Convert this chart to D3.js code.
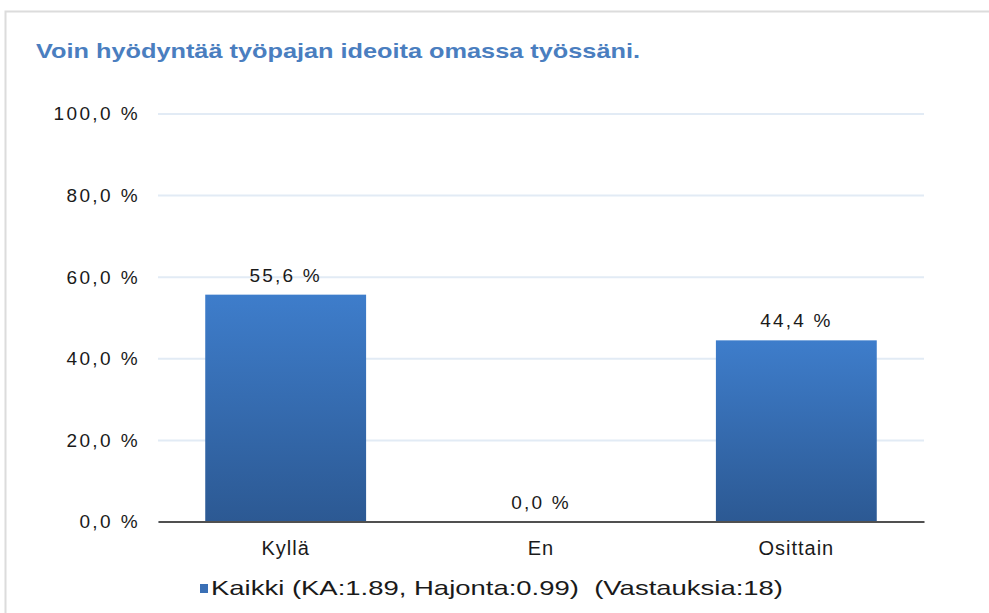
<!DOCTYPE html>
<html>
<head>
<meta charset="utf-8">
<script src="https://cdn.jsdelivr.net/npm/d3@7"></script>
<style>
html,body{margin:0;padding:0;background:#fff;}
svg{display:block;}
text{font-family:"Liberation Sans", Arial, sans-serif;}
</style>
</head>
<body>
<svg id="chart" width="989" height="613"></svg>
<script>
const titleText = "Voin hyödyntää työpajan ideoita omassa työssäni.";
const categories = ["Kyllä", "En", "Osittain"];
const values = [55.6, 0.0, 44.4];
const yTicks = [0, 20, 40, 60, 80, 100];
const seriesName = "Kaikki (KA:1.89, Hajonta:0.99)  (Vastauksia:18)";

const fmt = v => d3.format(".1f")(v).replace(".", ",") + " %";

const svg = d3.select("#chart");
const W = 989, H = 613;
const margin = {left: 158, right: 65, top: 113.5, bottom: 91.5};

// frame
svg.append("path")
  .attr("d", `M5.5,${H} V11.5 H${W}`)
  .attr("fill", "none").attr("stroke", "#dcdcdc").attr("stroke-width", 2);

// title
svg.append("text")
  .attr("x", 36).attr("y", 58)
  .attr("fill", "#4a7ebf")
  .attr("font-size", 21).attr("font-weight", "bold")
  .attr("textLength", 604).attr("lengthAdjust", "spacingAndGlyphs")
  .text(titleText);

const x = d3.scaleBand().domain(categories).range([margin.left, W - margin.right]).padding(0);
const y = d3.scaleLinear().domain([0, 100]).range([H - margin.bottom, margin.top]);

// gradient
const defs = svg.append("defs");
const grad = defs.append("linearGradient").attr("id", "barGrad")
  .attr("x1", 0).attr("y1", 0).attr("x2", 0).attr("y2", 1);
grad.append("stop").attr("offset", "0%").attr("stop-color", "#3e7dcb");
grad.append("stop").attr("offset", "100%").attr("stop-color", "#2c5993");

// grid
const yAxis = d3.axisLeft(y).tickValues(yTicks).tickSize(-(W - margin.left - margin.right)).tickFormat(fmt).tickPadding(18);
const gy = svg.append("g").attr("transform", `translate(${margin.left},0)`).call(yAxis);
gy.select(".domain").remove();
gy.selectAll(".tick line").attr("stroke", "#e2ebf5").attr("stroke-width", 2);
gy.selectAll(".tick text")
  .attr("font-size", 19).attr("fill", "#1a1a1a")
  .attr("letter-spacing", "2.4px")
  .attr("dy", "0.34em")
  .attr("font-family", "Liberation Sans, Arial, sans-serif");

// bars
const bw = x.bandwidth() * 0.63;
svg.append("g").selectAll("rect").data(values).join("rect")
  .attr("x", (d, i) => x(categories[i]) + (x.bandwidth() - bw) / 2)
  .attr("width", bw)
  .attr("y", d => y(d))
  .attr("height", d => y(0) - y(d))
  .attr("fill", "url(#barGrad)");

// value labels
svg.append("g").selectAll("text").data(values).join("text")
  .attr("x", (d, i) => x(categories[i]) + x.bandwidth() / 2)
  .attr("y", d => y(d) - 13)
  .attr("text-anchor", "middle")
  .attr("font-size", 19).attr("fill", "#1a1a1a")
  .attr("letter-spacing", "2.2px")
  .text(d => fmt(d));

// x axis
const xAxis = d3.axisBottom(x).tickSize(0).tickPadding(19);
const gx = svg.append("g").attr("transform", `translate(0,${y(0)})`).call(xAxis);
gx.select(".domain").attr("stroke", "#505050").attr("stroke-width", 2);
gx.selectAll(".tick text")
  .attr("font-size", 20).attr("fill", "#1a1a1a")
  .attr("letter-spacing", "1px")
  .attr("font-family", "Liberation Sans, Arial, sans-serif");

// legend
const lg = svg.append("g");
lg.append("rect").attr("x", 200).attr("y", 584).attr("width", 8).attr("height", 9).attr("fill", "#3a6fb5");
lg.append("text").attr("x", 211).attr("y", 595)
  .attr("font-size", 21).attr("fill", "#1a1a1a")
  .style("white-space", "pre")
  .attr("textLength", 572).attr("lengthAdjust", "spacingAndGlyphs")
  .text(seriesName);
</script>
</body>
</html>
